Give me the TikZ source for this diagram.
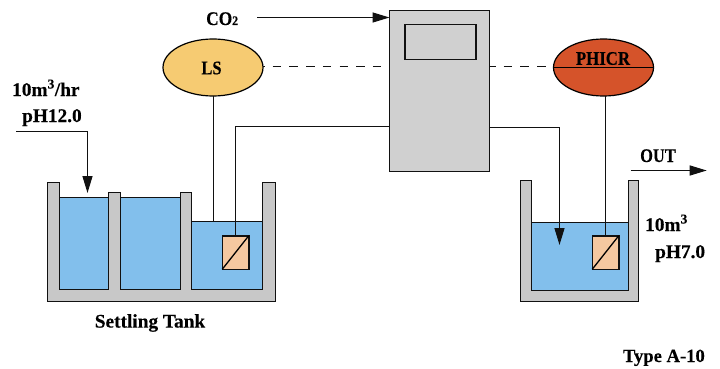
\documentclass[tikz,border=0pt]{standalone}
\usepackage{fontspec}
\usepackage{graphicx}
\setmainfont{Liberation Serif}[BoldFeatures={FakeBold=0.3}]
\usetikzlibrary{arrows.meta,shapes.geometric}
\definecolor{water}{HTML}{82BFEC}
\definecolor{wall}{HTML}{C8C8C8}
\definecolor{panel}{HTML}{D0D0D0}
\definecolor{lsfill}{HTML}{F6CB72}
\definecolor{phfill}{HTML}{D5532A}
\definecolor{probe}{HTML}{F5C8A0}
\definecolor{ink}{HTML}{111111}
\tikzset{
  line/.style={draw=ink,line width=1.3pt},
  tip/.style={-{Triangle[length=17pt,width=10pt]}},
  wallshape/.style={draw=ink,line width=1.2pt,fill=wall},
  waterbody/.style={draw=ink,line width=1.2pt,fill=water},
  sensor/.style={ellipse,draw=black,line width=1.2pt,minimum width=100pt,minimum height=57pt,inner sep=0pt,outer sep=0pt},
  probebox/.style={rectangle,draw=ink,line width=1.5pt,fill=probe,minimum width=26.5pt,minimum height=33.5pt,inner sep=0pt,outer sep=0pt},
  label/.style={inner sep=0pt,font=\fontsize{19.3}{21}\selectfont\bfseries},
}
\begin{document}
\begin{tikzpicture}[x=1pt,y=-1pt]
\useasboundingbox (0,0) rectangle (720,369);
% left tank
\draw[wallshape] (47.5,182.5) -- (59.5,182.5) -- (59.5,289.5) -- (108.5,289.5) -- (108.5,192.5) -- (120.5,192.5) -- (120.5,289.5) -- (180.5,289.5) -- (180.5,192.5) -- (191.5,192.5) -- (191.5,289.5) -- (262.5,289.5) -- (262.5,182.5) -- (275.5,182.5) -- (275.5,301.5) -- (47.5,301.5) -- cycle;
\draw[waterbody] (59.5,197.5) rectangle (108.5,289.5);
\draw[waterbody] (120.5,197.5) rectangle (180.5,289.5);
\draw[waterbody] (191.5,221.5) rectangle (262.5,289.5);
% right tank
\draw[wallshape] (520.5,180.5) -- (531.5,180.5) -- (531.5,290.5) -- (628.5,290.5) -- (628.5,180.5) -- (638.5,180.5) -- (638.5,301.5) -- (520.5,301.5) -- cycle;
\draw[waterbody] (531.5,222.5) rectangle (628.5,290.5);
% controller
\node[rectangle,draw=ink,line width=1.3pt,fill=panel,minimum width=100pt,minimum height=161pt,inner sep=0pt,outer sep=0pt] (ctrl) at (439.5,91) {};
\node[rectangle,draw=ink,line width=1.3pt,fill=panel,minimum width=71pt,minimum height=35pt,inner sep=0pt,outer sep=0pt] (disp) at (440.5,42) {};
% sensors
\node[sensor,fill=lsfill] (ls) at (213,67.5) {};
\node[sensor,fill=phfill] (ph) at (603.5,67.5) {};
\draw[line,draw=black] (ph.west) -- (ph.east);
% probes
\node[probebox] (p1) at (235.5,252.5) {};
\node[probebox] (p2) at (605.5,252.5) {};
\draw[line,draw=black] (p1.south west) -- (p1.north east);
\draw[line,draw=black] (p2.south west) -- (p2.north east);
% named free ends
\coordinate (co2start) at (257,17.5);
\coordinate (instart) at (16,131.5);
\coordinate (inend) at (87.5,193);
\coordinate (outstart) at (630.7,170.5);
\coordinate (outend) at (706.7,170.5);
\coordinate (dose) at (559.5,245);
\coordinate (lstank) at (213.5,221.5);
\coordinate (dashy) at (0,66.5);
% connectors
\draw[line,tip] (co2start) -- (co2start -| ctrl.west);
\draw[line,dash pattern=on 8.5pt off 8.2pt,dash phase=7pt] (ls.east |- dashy) -- (ctrl.west |- dashy);
\draw[line,dash pattern=on 8.5pt off 8.2pt,dash phase=2.5pt] (ctrl.east |- dashy) -- (ph.west |- dashy);
\draw[line] (ls.south -| lstank) -- (lstank);
\draw[line] (p1.north) -- (235.5,126.5) -- (ctrl.west |- 0,126.5);
\draw[line,tip] (ctrl.east |- 0,127.5) -- (559.5,127.5) -- (dose);
\draw[line] (ph.south -| p2.north) -- (p2.north);
\draw[line,tip] (instart) -- (87.5,131.5) -- (inend);
\draw[line,tip] (outstart) -- (outend);
% labels
\node[label,anchor=base west] (t1) at (12,96) {10m\textsuperscript{3}/hr};
\node[label,anchor=base west] (t2) at (22,122) {pH12.0};
\node[label,anchor=base west] (t3) at (206,25) {\scalebox{0.9}[1]{CO\fontsize{13}{14}\selectfont 2}};
\node[label] (t4) at (211.5,68) {\scalebox{0.85}[1]{LS}};
\node[label] (t5) at (603,58.5) {\scalebox{0.87}[1]{PHICR}};
\node[label,anchor=base west] (t6) at (640,162) {\scalebox{0.85}[1]{OUT}};
\node[label,anchor=base west] (t7) at (645,231) {10m\textsuperscript{3}};
\node[label,anchor=base west] (t8) at (655,258) {pH7.0};
\node[label] (t9) at (150,323) {Settling Tank};
\node[label,anchor=base east,font=\fontsize{18.6}{21}\selectfont\bfseries] (t10) at (705,362) {Type A-10};
\end{tikzpicture}
\end{document}
